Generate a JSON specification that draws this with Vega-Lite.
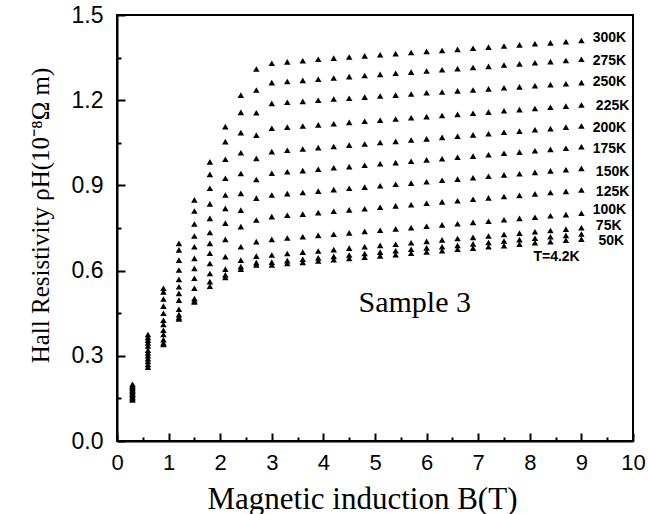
{
  "$schema": "https://vega.github.io/schema/vega-lite/v6.json",
  "width": 516,
  "height": 426,
  "autosize": {"type": "none"},
  "padding": {"left": 117, "top": 15, "right": 15, "bottom": 73},
  "background": "white",
  "config": {
    "view": {"stroke": "black", "strokeWidth": 2},
    "axis": {"domainColor": "black", "domainWidth": 2, "tickColor": "black", "tickWidth": 2, "grid": false, "labelColor": "black", "titleColor": "black", "labelFont": "Liberation Sans", "titleFont": "Liberation Serif", "titleFontWeight": "normal"}
  },
  "datasets": {
    "pts": [
      {"T":"300K","B":0.3,"rho":0.200},{"T":"300K","B":0.6,"rho":0.375},{"T":"300K","B":0.9,"rho":0.538},{"T":"300K","B":1.2,"rho":0.696},{"T":"300K","B":1.5,"rho":0.849},{"T":"300K","B":1.8,"rho":0.983},{"T":"300K","B":2.1,"rho":1.107},{"T":"300K","B":2.4,"rho":1.218},{"T":"300K","B":2.7,"rho":1.310},{"T":"300K","B":3.0,"rho":1.330},{"T":"300K","B":3.3,"rho":1.335},{"T":"300K","B":3.6,"rho":1.339},{"T":"300K","B":3.9,"rho":1.344},{"T":"300K","B":4.2,"rho":1.348},{"T":"300K","B":4.5,"rho":1.352},{"T":"300K","B":4.8,"rho":1.356},{"T":"300K","B":5.1,"rho":1.360},{"T":"300K","B":5.4,"rho":1.364},{"T":"300K","B":5.7,"rho":1.368},{"T":"300K","B":6.0,"rho":1.372},{"T":"300K","B":6.3,"rho":1.375},{"T":"300K","B":6.6,"rho":1.379},{"T":"300K","B":6.9,"rho":1.383},{"T":"300K","B":7.2,"rho":1.387},{"T":"300K","B":7.5,"rho":1.391},{"T":"300K","B":7.8,"rho":1.395},{"T":"300K","B":8.1,"rho":1.399},{"T":"300K","B":8.4,"rho":1.402},{"T":"300K","B":8.7,"rho":1.406},{"T":"300K","B":9.0,"rho":1.410},
      {"T":"275K","B":0.3,"rho":0.195},{"T":"275K","B":0.6,"rho":0.365},{"T":"275K","B":0.9,"rho":0.525},{"T":"275K","B":1.2,"rho":0.673},{"T":"275K","B":1.5,"rho":0.810},{"T":"275K","B":1.8,"rho":0.939},{"T":"275K","B":2.1,"rho":1.054},{"T":"275K","B":2.4,"rho":1.157},{"T":"275K","B":2.7,"rho":1.236},{"T":"275K","B":3.0,"rho":1.262},{"T":"275K","B":3.3,"rho":1.266},{"T":"275K","B":3.6,"rho":1.270},{"T":"275K","B":3.9,"rho":1.274},{"T":"275K","B":4.2,"rho":1.278},{"T":"275K","B":4.5,"rho":1.283},{"T":"275K","B":4.8,"rho":1.287},{"T":"275K","B":5.1,"rho":1.291},{"T":"275K","B":5.4,"rho":1.295},{"T":"275K","B":5.7,"rho":1.299},{"T":"275K","B":6.0,"rho":1.303},{"T":"275K","B":6.3,"rho":1.307},{"T":"275K","B":6.6,"rho":1.311},{"T":"275K","B":6.9,"rho":1.315},{"T":"275K","B":7.2,"rho":1.319},{"T":"275K","B":7.5,"rho":1.324},{"T":"275K","B":7.8,"rho":1.328},{"T":"275K","B":8.1,"rho":1.332},{"T":"275K","B":8.4,"rho":1.336},{"T":"275K","B":8.7,"rho":1.340},{"T":"275K","B":9.0,"rho":1.344},
      {"T":"250K","B":0.3,"rho":0.190},{"T":"250K","B":0.6,"rho":0.355},{"T":"250K","B":0.9,"rho":0.500},{"T":"250K","B":1.2,"rho":0.637},{"T":"250K","B":1.5,"rho":0.764},{"T":"250K","B":1.8,"rho":0.890},{"T":"250K","B":2.1,"rho":0.992},{"T":"250K","B":2.4,"rho":1.086},{"T":"250K","B":2.7,"rho":1.156},{"T":"250K","B":3.0,"rho":1.189},{"T":"250K","B":3.3,"rho":1.193},{"T":"250K","B":3.6,"rho":1.196},{"T":"250K","B":3.9,"rho":1.200},{"T":"250K","B":4.2,"rho":1.204},{"T":"250K","B":4.5,"rho":1.207},{"T":"250K","B":4.8,"rho":1.211},{"T":"250K","B":5.1,"rho":1.215},{"T":"250K","B":5.4,"rho":1.218},{"T":"250K","B":5.7,"rho":1.222},{"T":"250K","B":6.0,"rho":1.226},{"T":"250K","B":6.3,"rho":1.229},{"T":"250K","B":6.6,"rho":1.233},{"T":"250K","B":6.9,"rho":1.236},{"T":"250K","B":7.2,"rho":1.240},{"T":"250K","B":7.5,"rho":1.244},{"T":"250K","B":7.8,"rho":1.247},{"T":"250K","B":8.1,"rho":1.251},{"T":"250K","B":8.4,"rho":1.255},{"T":"250K","B":8.7,"rho":1.258},{"T":"250K","B":9.0,"rho":1.262},
      {"T":"225K","B":0.3,"rho":0.185},{"T":"225K","B":0.6,"rho":0.345},{"T":"225K","B":0.9,"rho":0.475},{"T":"225K","B":1.2,"rho":0.602},{"T":"225K","B":1.5,"rho":0.722},{"T":"225K","B":1.8,"rho":0.835},{"T":"225K","B":2.1,"rho":0.925},{"T":"225K","B":2.4,"rho":1.015},{"T":"225K","B":2.7,"rho":1.077},{"T":"225K","B":3.0,"rho":1.101},{"T":"225K","B":3.3,"rho":1.105},{"T":"225K","B":3.6,"rho":1.109},{"T":"225K","B":3.9,"rho":1.113},{"T":"225K","B":4.2,"rho":1.117},{"T":"225K","B":4.5,"rho":1.122},{"T":"225K","B":4.8,"rho":1.126},{"T":"225K","B":5.1,"rho":1.130},{"T":"225K","B":5.4,"rho":1.134},{"T":"225K","B":5.7,"rho":1.138},{"T":"225K","B":6.0,"rho":1.142},{"T":"225K","B":6.3,"rho":1.146},{"T":"225K","B":6.6,"rho":1.150},{"T":"225K","B":6.9,"rho":1.154},{"T":"225K","B":7.2,"rho":1.158},{"T":"225K","B":7.5,"rho":1.163},{"T":"225K","B":7.8,"rho":1.167},{"T":"225K","B":8.1,"rho":1.171},{"T":"225K","B":8.4,"rho":1.175},{"T":"225K","B":8.7,"rho":1.179},{"T":"225K","B":9.0,"rho":1.183},
      {"T":"200K","B":0.3,"rho":0.180},{"T":"200K","B":0.6,"rho":0.335},{"T":"200K","B":0.9,"rho":0.450},{"T":"200K","B":1.2,"rho":0.569},{"T":"200K","B":1.5,"rho":0.684},{"T":"200K","B":1.8,"rho":0.784},{"T":"200K","B":2.1,"rho":0.866},{"T":"200K","B":2.4,"rho":0.942},{"T":"200K","B":2.7,"rho":0.995},{"T":"200K","B":3.0,"rho":1.019},{"T":"200K","B":3.3,"rho":1.024},{"T":"200K","B":3.6,"rho":1.028},{"T":"200K","B":3.9,"rho":1.033},{"T":"200K","B":4.2,"rho":1.037},{"T":"200K","B":4.5,"rho":1.042},{"T":"200K","B":4.8,"rho":1.046},{"T":"200K","B":5.1,"rho":1.051},{"T":"200K","B":5.4,"rho":1.055},{"T":"200K","B":5.7,"rho":1.060},{"T":"200K","B":6.0,"rho":1.064},{"T":"200K","B":6.3,"rho":1.069},{"T":"200K","B":6.6,"rho":1.073},{"T":"200K","B":6.9,"rho":1.078},{"T":"200K","B":7.2,"rho":1.082},{"T":"200K","B":7.5,"rho":1.087},{"T":"200K","B":7.8,"rho":1.091},{"T":"200K","B":8.1,"rho":1.096},{"T":"200K","B":8.4,"rho":1.100},{"T":"200K","B":8.7,"rho":1.105},{"T":"200K","B":9.0,"rho":1.109},
      {"T":"175K","B":0.3,"rho":0.175},{"T":"175K","B":0.6,"rho":0.320},{"T":"175K","B":0.9,"rho":0.425},{"T":"175K","B":1.2,"rho":0.543},{"T":"175K","B":1.5,"rho":0.643},{"T":"175K","B":1.8,"rho":0.734},{"T":"175K","B":2.1,"rho":0.819},{"T":"175K","B":2.4,"rho":0.872},{"T":"175K","B":2.7,"rho":0.921},{"T":"175K","B":3.0,"rho":0.943},{"T":"175K","B":3.3,"rho":0.948},{"T":"175K","B":3.6,"rho":0.952},{"T":"175K","B":3.9,"rho":0.957},{"T":"175K","B":4.2,"rho":0.962},{"T":"175K","B":4.5,"rho":0.966},{"T":"175K","B":4.8,"rho":0.971},{"T":"175K","B":5.1,"rho":0.976},{"T":"175K","B":5.4,"rho":0.980},{"T":"175K","B":5.7,"rho":0.985},{"T":"175K","B":6.0,"rho":0.990},{"T":"175K","B":6.3,"rho":0.994},{"T":"175K","B":6.6,"rho":0.999},{"T":"175K","B":6.9,"rho":1.003},{"T":"175K","B":7.2,"rho":1.008},{"T":"175K","B":7.5,"rho":1.013},{"T":"175K","B":7.8,"rho":1.017},{"T":"175K","B":8.1,"rho":1.022},{"T":"175K","B":8.4,"rho":1.027},{"T":"175K","B":8.7,"rho":1.031},{"T":"175K","B":9.0,"rho":1.036},
      {"T":"150K","B":0.3,"rho":0.170},{"T":"150K","B":0.6,"rho":0.310},{"T":"150K","B":0.9,"rho":0.410},{"T":"150K","B":1.2,"rho":0.520},{"T":"150K","B":1.5,"rho":0.608},{"T":"150K","B":1.8,"rho":0.696},{"T":"150K","B":2.1,"rho":0.767},{"T":"150K","B":2.4,"rho":0.813},{"T":"150K","B":2.7,"rho":0.855},{"T":"150K","B":3.0,"rho":0.866},{"T":"150K","B":3.3,"rho":0.871},{"T":"150K","B":3.6,"rho":0.875},{"T":"150K","B":3.9,"rho":0.880},{"T":"150K","B":4.2,"rho":0.885},{"T":"150K","B":4.5,"rho":0.890},{"T":"150K","B":4.8,"rho":0.894},{"T":"150K","B":5.1,"rho":0.899},{"T":"150K","B":5.4,"rho":0.904},{"T":"150K","B":5.7,"rho":0.908},{"T":"150K","B":6.0,"rho":0.913},{"T":"150K","B":6.3,"rho":0.918},{"T":"150K","B":6.6,"rho":0.922},{"T":"150K","B":6.9,"rho":0.927},{"T":"150K","B":7.2,"rho":0.932},{"T":"150K","B":7.5,"rho":0.937},{"T":"150K","B":7.8,"rho":0.941},{"T":"150K","B":8.1,"rho":0.946},{"T":"150K","B":8.4,"rho":0.951},{"T":"150K","B":8.7,"rho":0.955},{"T":"150K","B":9.0,"rho":0.960},
      {"T":"125K","B":0.3,"rho":0.165},{"T":"125K","B":0.6,"rho":0.300},{"T":"125K","B":0.9,"rho":0.390},{"T":"125K","B":1.2,"rho":0.496},{"T":"125K","B":1.5,"rho":0.573},{"T":"125K","B":1.8,"rho":0.661},{"T":"125K","B":2.1,"rho":0.710},{"T":"125K","B":2.4,"rho":0.755},{"T":"125K","B":2.7,"rho":0.778},{"T":"125K","B":3.0,"rho":0.790},{"T":"125K","B":3.3,"rho":0.795},{"T":"125K","B":3.6,"rho":0.799},{"T":"125K","B":3.9,"rho":0.804},{"T":"125K","B":4.2,"rho":0.809},{"T":"125K","B":4.5,"rho":0.814},{"T":"125K","B":4.8,"rho":0.818},{"T":"125K","B":5.1,"rho":0.823},{"T":"125K","B":5.4,"rho":0.828},{"T":"125K","B":5.7,"rho":0.832},{"T":"125K","B":6.0,"rho":0.837},{"T":"125K","B":6.3,"rho":0.842},{"T":"125K","B":6.6,"rho":0.846},{"T":"125K","B":6.9,"rho":0.851},{"T":"125K","B":7.2,"rho":0.856},{"T":"125K","B":7.5,"rho":0.861},{"T":"125K","B":7.8,"rho":0.865},{"T":"125K","B":8.1,"rho":0.870},{"T":"125K","B":8.4,"rho":0.875},{"T":"125K","B":8.7,"rho":0.879},{"T":"125K","B":9.0,"rho":0.884},
      {"T":"100K","B":0.3,"rho":0.160},{"T":"100K","B":0.6,"rho":0.290},{"T":"100K","B":0.9,"rho":0.375},{"T":"100K","B":1.2,"rho":0.464},{"T":"100K","B":1.5,"rho":0.538},{"T":"100K","B":1.8,"rho":0.625},{"T":"100K","B":2.1,"rho":0.649},{"T":"100K","B":2.4,"rho":0.684},{"T":"100K","B":2.7,"rho":0.702},{"T":"100K","B":3.0,"rho":0.710},{"T":"100K","B":3.3,"rho":0.715},{"T":"100K","B":3.6,"rho":0.719},{"T":"100K","B":3.9,"rho":0.724},{"T":"100K","B":4.2,"rho":0.728},{"T":"100K","B":4.5,"rho":0.733},{"T":"100K","B":4.8,"rho":0.738},{"T":"100K","B":5.1,"rho":0.742},{"T":"100K","B":5.4,"rho":0.747},{"T":"100K","B":5.7,"rho":0.751},{"T":"100K","B":6.0,"rho":0.756},{"T":"100K","B":6.3,"rho":0.761},{"T":"100K","B":6.6,"rho":0.765},{"T":"100K","B":6.9,"rho":0.770},{"T":"100K","B":7.2,"rho":0.774},{"T":"100K","B":7.5,"rho":0.779},{"T":"100K","B":7.8,"rho":0.784},{"T":"100K","B":8.1,"rho":0.788},{"T":"100K","B":8.4,"rho":0.793},{"T":"100K","B":8.7,"rho":0.797},{"T":"100K","B":9.0,"rho":0.802},
      {"T":"75K","B":0.3,"rho":0.155},{"T":"75K","B":0.6,"rho":0.280},{"T":"75K","B":0.9,"rho":0.357},{"T":"75K","B":1.2,"rho":0.445},{"T":"75K","B":1.5,"rho":0.502},{"T":"75K","B":1.8,"rho":0.590},{"T":"75K","B":2.1,"rho":0.605},{"T":"75K","B":2.4,"rho":0.637},{"T":"75K","B":2.7,"rho":0.651},{"T":"75K","B":3.0,"rho":0.655},{"T":"75K","B":3.3,"rho":0.660},{"T":"75K","B":3.6,"rho":0.665},{"T":"75K","B":3.9,"rho":0.669},{"T":"75K","B":4.2,"rho":0.674},{"T":"75K","B":4.5,"rho":0.679},{"T":"75K","B":4.8,"rho":0.684},{"T":"75K","B":5.1,"rho":0.689},{"T":"75K","B":5.4,"rho":0.693},{"T":"75K","B":5.7,"rho":0.698},{"T":"75K","B":6.0,"rho":0.703},{"T":"75K","B":6.3,"rho":0.708},{"T":"75K","B":6.6,"rho":0.713},{"T":"75K","B":6.9,"rho":0.717},{"T":"75K","B":7.2,"rho":0.722},{"T":"75K","B":7.5,"rho":0.727},{"T":"75K","B":7.8,"rho":0.732},{"T":"75K","B":8.1,"rho":0.737},{"T":"75K","B":8.4,"rho":0.741},{"T":"75K","B":8.7,"rho":0.746},{"T":"75K","B":9.0,"rho":0.751},
      {"T":"50K","B":0.3,"rho":0.150},{"T":"50K","B":0.6,"rho":0.270},{"T":"50K","B":0.9,"rho":0.345},{"T":"50K","B":1.2,"rho":0.435},{"T":"50K","B":1.5,"rho":0.494},{"T":"50K","B":1.8,"rho":0.561},{"T":"50K","B":2.1,"rho":0.585},{"T":"50K","B":2.4,"rho":0.614},{"T":"50K","B":2.7,"rho":0.628},{"T":"50K","B":3.0,"rho":0.630},{"T":"50K","B":3.3,"rho":0.635},{"T":"50K","B":3.6,"rho":0.640},{"T":"50K","B":3.9,"rho":0.645},{"T":"50K","B":4.2,"rho":0.650},{"T":"50K","B":4.5,"rho":0.655},{"T":"50K","B":4.8,"rho":0.660},{"T":"50K","B":5.1,"rho":0.665},{"T":"50K","B":5.4,"rho":0.670},{"T":"50K","B":5.7,"rho":0.675},{"T":"50K","B":6.0,"rho":0.680},{"T":"50K","B":6.3,"rho":0.684},{"T":"50K","B":6.6,"rho":0.689},{"T":"50K","B":6.9,"rho":0.694},{"T":"50K","B":7.2,"rho":0.699},{"T":"50K","B":7.5,"rho":0.704},{"T":"50K","B":7.8,"rho":0.709},{"T":"50K","B":8.1,"rho":0.714},{"T":"50K","B":8.4,"rho":0.719},{"T":"50K","B":8.7,"rho":0.724},{"T":"50K","B":9.0,"rho":0.729},
      {"T":"4.2K","B":0.3,"rho":0.145},{"T":"4.2K","B":0.6,"rho":0.260},{"T":"4.2K","B":0.9,"rho":0.340},{"T":"4.2K","B":1.2,"rho":0.430},{"T":"4.2K","B":1.5,"rho":0.490},{"T":"4.2K","B":1.8,"rho":0.545},{"T":"4.2K","B":2.1,"rho":0.576},{"T":"4.2K","B":2.4,"rho":0.605},{"T":"4.2K","B":2.7,"rho":0.620},{"T":"4.2K","B":3.0,"rho":0.620},{"T":"4.2K","B":3.3,"rho":0.625},{"T":"4.2K","B":3.6,"rho":0.629},{"T":"4.2K","B":3.9,"rho":0.634},{"T":"4.2K","B":4.2,"rho":0.638},{"T":"4.2K","B":4.5,"rho":0.643},{"T":"4.2K","B":4.8,"rho":0.647},{"T":"4.2K","B":5.1,"rho":0.652},{"T":"4.2K","B":5.4,"rho":0.656},{"T":"4.2K","B":5.7,"rho":0.661},{"T":"4.2K","B":6.0,"rho":0.666},{"T":"4.2K","B":6.3,"rho":0.670},{"T":"4.2K","B":6.6,"rho":0.675},{"T":"4.2K","B":6.9,"rho":0.679},{"T":"4.2K","B":7.2,"rho":0.684},{"T":"4.2K","B":7.5,"rho":0.688},{"T":"4.2K","B":7.8,"rho":0.693},{"T":"4.2K","B":8.1,"rho":0.698},{"T":"4.2K","B":8.4,"rho":0.702},{"T":"4.2K","B":8.7,"rho":0.707},{"T":"4.2K","B":9.0,"rho":0.711}
    ],
    "labels": [
      {"B":9.22,"rho":1.418,"label":"300K"},
      {"B":9.22,"rho":1.338,"label":"275K"},
      {"B":9.22,"rho":1.265,"label":"250K"},
      {"B":9.28,"rho":1.181,"label":"225K"},
      {"B":9.22,"rho":1.101,"label":"200K"},
      {"B":9.22,"rho":1.028,"label":"175K"},
      {"B":9.28,"rho":0.948,"label":"150K"},
      {"B":9.28,"rho":0.878,"label":"125K"},
      {"B":9.22,"rho":0.813,"label":"100K"},
      {"B":9.28,"rho":0.757,"label":"75K"},
      {"B":9.33,"rho":0.704,"label":"50K"},
      {"B":8.07,"rho":0.647,"label":"T=4.2K"}
    ],
    "note": [{"B":5.77,"rho":0.485,"label":"Sample 3"}]
  },
  "layer": [
    {
      "data": {"name": "pts"},
      "mark": {"type": "point", "shape": "triangle-up", "filled": true, "color": "black", "opacity": 1, "size": 42},
      "encoding": {
        "x": {"field": "B", "type": "quantitative", "scale": {"domain": [0, 10], "nice": false},
              "axis": {"orient": "bottom", "values": [0,1,2,3,4,5,6,7,8,9,10], "tickSize": -8, "labelPadding": 19, "labelFontSize": 22, "labelFlush": false,
                       "title": "Magnetic induction B(T)", "titleFontSize": 31, "titleX": 245, "titleY": 67, "titleBaseline": "alphabetic", "titleAnchor": null}},
        "y": {"field": "rho", "type": "quantitative", "scale": {"domain": [0, 1.5], "nice": false, "zero": true},
              "axis": {"orient": "left", "values": [0,0.3,0.6,0.9,1.2,1.5], "format": ".1f", "tickSize": -8, "labelPadding": 22, "labelFontSize": 23, "labelFlush": false,
                       "title": "Hall Resistivity ρH(10⁻⁸Ω m)", "titleFontSize": 25, "titleX": -69, "titleY": 200, "titleBaseline": "alphabetic", "titleAngle": -90}}
      }
    },
    {
      "data": {"name": "labels"},
      "mark": {"type": "text", "align": "left", "baseline": "middle", "font": "Liberation Sans", "fontWeight": "bold", "fontSize": 14, "color": "black"},
      "encoding": {
        "x": {"field": "B", "type": "quantitative",
              "axis": {"orient": "bottom", "values": [0.5,1.5,2.5,3.5,4.5,5.5,6.5,7.5,8.5,9.5], "tickSize": -4, "labels": false, "domain": false, "title": null}},
        "y": {"field": "rho", "type": "quantitative",
              "axis": {"orient": "left", "values": [0.15,0.45,0.75,1.05,1.35], "tickSize": -4, "labels": false, "domain": false, "title": null}},
        "text": {"field": "label"}
      }
    },
    {
      "data": {"name": "note"},
      "mark": {"type": "text", "align": "center", "baseline": "middle", "font": "Liberation Serif", "fontSize": 30, "color": "black"},
      "encoding": {
        "x": {"field": "B", "type": "quantitative", "axis": null},
        "y": {"field": "rho", "type": "quantitative", "axis": null},
        "text": {"field": "label"}
      }
    }
  ],
  "resolve": {"axis": {"x": "independent", "y": "independent"}}
}
